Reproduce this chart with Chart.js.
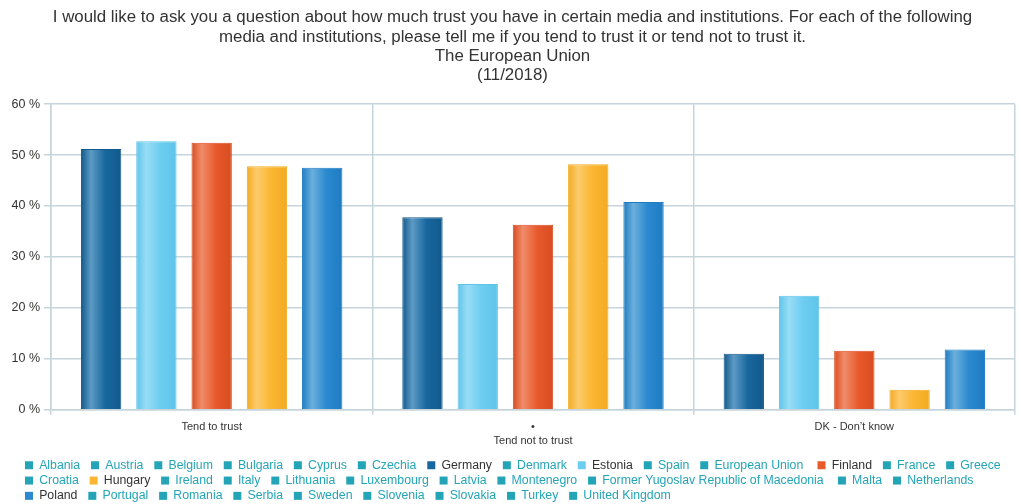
<!DOCTYPE html>
<html>
<head>
<meta charset="utf-8">
<script src="https://cdn.jsdelivr.net/npm/chart.js@4/dist/chart.umd.min.js"></script>
<style>
  html, body { margin: 0; padding: 0; background: #fff; }
  #wrap { width: 1019px; height: 504px; position: relative; }
</style>
</head>
<body>
<div id="wrap"><canvas id="myChart"></canvas></div>
<script>
  const categories = ['Tend to trust', ['\u2022', 'Tend not to trust'], 'DK - Don\u2019t know'];

  const germany = [51.2, 37.8, 11.0];
  const estonia = [52.7, 24.7, 22.4];
  const finland = [52.4, 36.3, 11.6];
  const hungary = [47.8, 48.2, 3.9];
  const poland = [47.5, 40.8, 11.8];

  const yTicks = [0, 10, 20, 30, 40, 50, 60];

  const countries = [
    'Albania', 'Austria', 'Belgium', 'Bulgaria', 'Cyprus', 'Czechia', 'Germany', 'Denmark',
    'Estonia', 'Spain', 'European Union ', 'Finland', 'France', 'Greece', 'Croatia', 'Hungary',
    'Ireland', 'Italy', 'Lithuania', 'Luxembourg', 'Latvia', 'Montenegro',
    'Former Yugoslav Republic of Macedonia ', 'Malta', 'Netherlands', 'Poland', 'Portugal',
    'Romania', 'Serbia', 'Sweden', 'Slovenia', 'Slovakia', 'Turkey', 'United Kingdom'
  ];

  // colours: base, light stripe, dark edge
  const shades = {
    Germany: ['#17679e', '#5d9bc4', '#12598c'],
    Estonia: ['#6ccdf0', '#98ddf5', '#5fc4ea'],
    Finland: ['#e85a2c', '#f08c6a', '#d94c20'],
    Hungary: ['#fbb632', '#fccb6c', '#f3aa22'],
    Poland: ['#2a89cf', '#6bafdc', '#1f7cc2']
  };
  const inactive = '#24a5b7';

  const series = { Germany: germany, Estonia: estonia, Finland: finland, Hungary: hungary, Poland: poland };

  const datasets = Object.keys(series).map(name => ({
    label: name,
    data: series[name],
    backgroundColor: shades[name][0],
    borderColor: shades[name][2],
    borderWidth: 1,
    barPercentage: 0.73,
    categoryPercentage: 0.86
  }));

  const barShade = {
    id: 'barShade',
    afterLayout(chart) {
      // legend sits a little right of the axis labels
      chart.legend.left += 12;
      chart.legend.right += 12;
    },
    beforeDatasetsDraw(chart) {
      const ctx = chart.ctx;
      chart.data.datasets.forEach((ds, i) => {
        const s = shades[ds.label];
        chart.getDatasetMeta(i).data.forEach(bar => {
          const left = bar.x - bar.width / 2;
          const g = ctx.createLinearGradient(left, 0, left + bar.width, 0);
          g.addColorStop(0, s[2]);
          g.addColorStop(0.25, s[1]);
          g.addColorStop(0.6, s[0]);
          g.addColorStop(1, s[2]);
          bar.options = Object.assign({}, bar.options, { backgroundColor: g });
        });
      });
    }
  };

  const gridColor = '#c6d5dc';
  const font = 'Liberation Sans, Arial, sans-serif';

  const config = {
    type: 'bar',
    data: { labels: categories, datasets: datasets },
    plugins: [barShade],
    options: {
      responsive: true,
      maintainAspectRatio: false,
      animation: false,
      layout: { padding: { left: 10, right: 4, top: 8, bottom: -8 } },
      plugins: {
        title: {
          display: true,
          text: [
            'I would like to ask you a question about how much trust you have in certain media and institutions. For each of the following',
            'media and institutions, please tell me if you tend to trust it or tend not to trust it.',
            'The European Union',
            '(11/2018)'
          ],
          color: '#333',
          font: { family: font, size: 16.85, weight: 'normal', lineHeight: 1.145 },
          padding: { top: 0, bottom: 19 }
        },
        legend: {
          position: 'bottom',
          align: 'start',
          labels: {
            boxWidth: 8,
            boxHeight: 8,
            padding: 3,
            font: { family: font, size: 12.3 },
            generateLabels() {
              return countries.map(c => {
                const key = c.trim();
                return {
                  text: c + '  \u200A',
                  fillStyle: shades[key] ? shades[key][0] : inactive,
                  strokeStyle: shades[key] ? shades[key][0] : inactive,
                  lineWidth: 0,
                  fontColor: shades[key] ? '#333' : inactive,
                  hidden: false
                };
              });
            }
          },
          onClick() {}
        },
        tooltip: { enabled: false }
      },
      scales: {
        x: {
          afterFit(axis) { axis.height += 3; },
          grid: { offset: true, color: gridColor, lineWidth: 1.5, tickLength: 5 },
          border: { color: gridColor, width: 1.5 },
          ticks: { color: '#333', font: { family: font, size: 11 }, padding: 6 }
        },
        y: {
          min: 0,
          max: 60,
          afterBuildTicks(axis) { axis.ticks = yTicks.map(v => ({ value: v })); },
          afterFit(axis) { axis.width = 41; },
          grid: { color: gridColor, lineWidth: 1.5, tickLength: 7 },
          border: { color: gridColor, width: 1.5 },
          ticks: {
            color: '#333',
            font: { family: font, size: 12.5 },
            padding: 4,
            callback: v => v + ' %'
          }
        }
      }
    }
  };

  const myChart = new Chart(document.getElementById('myChart'), config);
</script>
</body>
</html>
